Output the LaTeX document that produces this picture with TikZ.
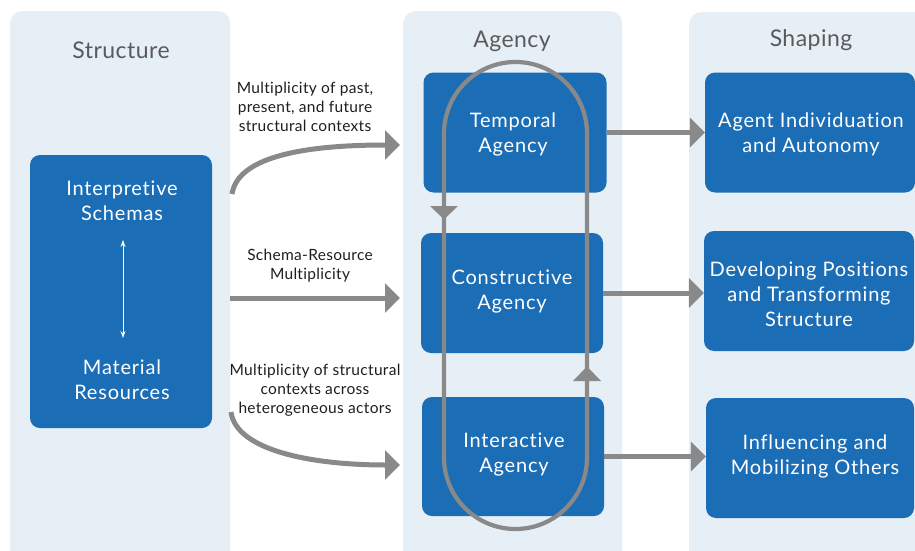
\documentclass[tikz,border=0pt]{standalone}
\usepackage{fontspec}
\setmainfont{Lato}
\newfontfamily\boxfam[LetterSpace=4,Ligatures={NoCommon}]{Lato}
\newfontfamily\labfam[LetterSpace=2,Ligatures={NoCommon}]{Lato}
\newfontfamily\titfam[LetterSpace=2]{Lato}
\usetikzlibrary{arrows.meta}
\definecolor{panelc}{HTML}{E6EEF6}
\definecolor{boxc}{HTML}{1B6DB6}
\definecolor{arrc}{HTML}{898989}
\definecolor{titlec}{HTML}{5A5A5A}
\definecolor{labc}{HTML}{1E1E1E}
\tikzset{
  panel/.style={fill=panelc, rounded corners=12pt, inner sep=0pt},
  bluebox/.style={fill=boxc, rounded corners=10pt, text=white, align=center, inner sep=0pt, font=\boxfam\fontsize{20}{25}\selectfont},
  boxtext/.style={text=white, align=center, inner sep=0pt, font=\boxfam\fontsize{20}{25}\selectfont},
  ptitle/.style={text=titlec, font=\titfam\fontsize{23}{28}\selectfont, inner sep=0pt},
  lab/.style={text=labc, align=center, inner sep=0pt, font=\labfam\fontsize{15.5}{19}\selectfont},
  bigarrow/.style={draw=arrc, line width=5pt, -{Triangle[width=29pt,length=15pt]}},
  loopline/.style={draw=arrc, line width=4.2pt},
}
\begin{document}
\begin{tikzpicture}[x=1pt,y=-1pt]
\useasboundingbox (0,0) rectangle (915,551);
% panels
\node[panel, minimum width=220pt, minimum height=570pt, anchor=north west] (pstruct) at (10,11) {};
\node[panel, minimum width=219pt, minimum height=570pt, anchor=north west] (pagency) at (403,11) {};
\node[panel, minimum width=250pt, minimum height=570pt, anchor=north west] (pshape) at (689,12) {};
% titles
\node[ptitle] (tstruct) at (121,50.5) {Structure};
\node[ptitle] (tagency) at (512,41.5) {Agency};
\node[ptitle] (tshape) at (811,40.5) {Shaping};
% structure box
\node[bluebox, minimum width=182pt, minimum height=273pt] (sbox) at (121,291.5) {};
\node[boxtext] (interp) at (122,200.5) {Interpretive\\Schemas};
\node[boxtext] (mater) at (122,380) {Material\\Resources};
\coordinate (da) at (123,240);
\coordinate (db) at (123,338);
\draw[white, line width=1pt, {Stealth[length=7pt,width=5pt]}-{Stealth[length=7pt,width=5pt]}] (da) -- (db);
% agency boxes
\node[bluebox, minimum width=183pt, minimum height=120pt] (temporal) at (515,132.5) {};
\node[boxtext] (temporalt) at (513,134) {Temporal\\Agency};
\node[bluebox, minimum width=182pt, minimum height=120pt] (constructive) at (512,293) {};
\node[boxtext] (constructivet) at (512,292) {Constructive\\Agency};
\node[bluebox, minimum width=182pt, minimum height=119pt] (interactive) at (513,456.5) {};
\node[boxtext] (interactivet) at (514,455) {Interactive\\Agency};
% shaping boxes
\node[bluebox, minimum width=210pt, minimum height=120pt] (indiv) at (810,132.5) {};
\node[boxtext] (indivt) at (811,134.5) {Agent Individuation\\and Autonomy};
\node[bluebox, minimum width=210pt, minimum height=120pt] (develop) at (809,291) {};
\node[boxtext] (developt) at (809,294) {Developing Positions\\and Transforming\\Structure};
\node[bluebox, minimum width=208pt, minimum height=120pt] (influ) at (810,458) {};
\node[boxtext] (influt) at (815,456) {Influencing and\\Mobilizing Others};
% loop
\draw[loopline, rounded corners=71.5pt] (444,62) rectangle (587,529);
\fill[arrc] (430,206) -- (458,206) -- (444,219.5) -- cycle;
\fill[arrc] (573,381) -- (601,381) -- (587,366.5) -- cycle;
% agency -> shaping arrows
\draw[bigarrow] (temporal.east) -- (indiv.west);
\draw[bigarrow] (constructive.east) -- (constructive.east -| develop.west);
\draw[bigarrow] (interactive.east) -- (interactive.east -| influ.west);
% structure -> agency arrows
\coordinate (s1) at (232,194);
\coordinate (e1) at (400,145);
\coordinate (s2) at (230,298);
\coordinate (e2) at (400,298);
\coordinate (s3) at (231,412);
\coordinate (e3) at (400,465);
\draw[bigarrow] (s1) .. controls (238,155) and (310,145) .. (e1);
\draw[bigarrow] (s2) -- (e2);
\draw[bigarrow] (s3) .. controls (236,450) and (310,465) .. (e3);
% labels
\node[lab] (l1) at (305,107) {Multiplicity of past,\\present, and future\\structural contexts};
\node[lab] (l2) at (310,265.5) {Schema-Resource\\Multiplicity};
\node[lab] (l3) at (315,390) {Multiplicity of structural\\contexts across\\heterogeneous actors};
\end{tikzpicture}
\end{document}
